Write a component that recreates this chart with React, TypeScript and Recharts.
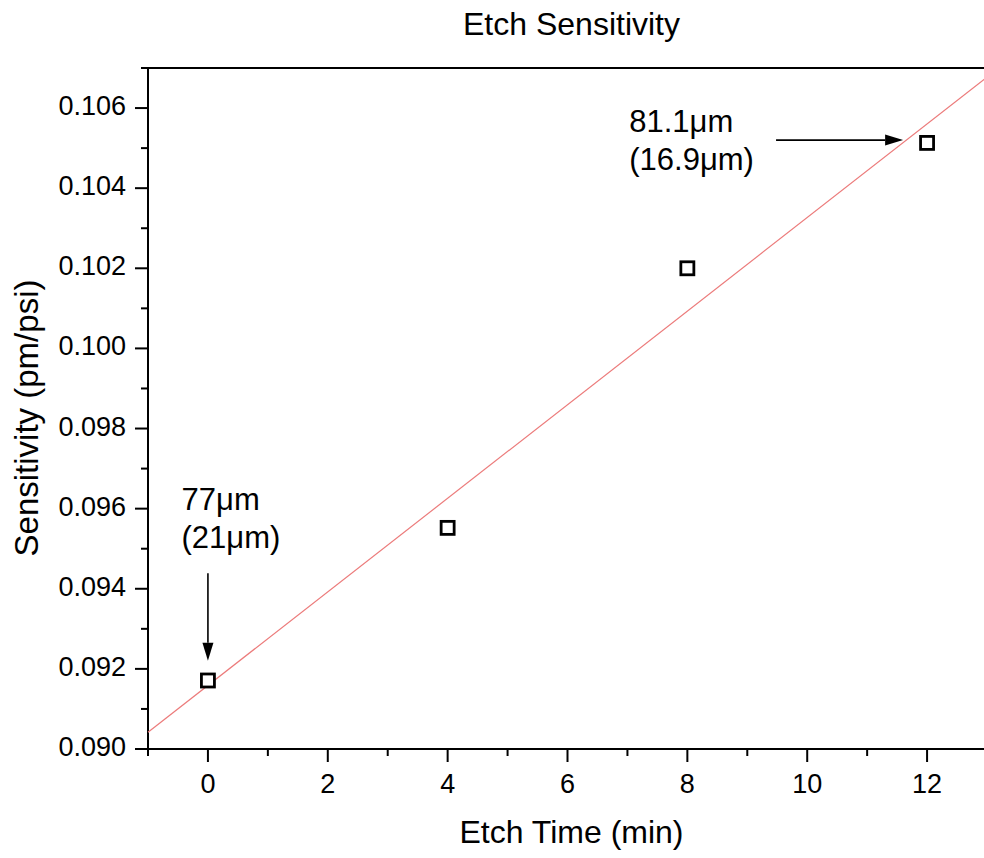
import React from "react";
import { ComposedChart, Scatter, XAxis, YAxis, ReferenceLine, ReferenceDot } from "recharts";

const FONT = "'Liberation Sans', Arial, sans-serif";

// measured points
const etchTime = [0, 4, 8, 12];
const sensitivity = [0.09171, 0.09552, 0.102, 0.10513];

// linear fit, read at both ends of the axis
const fitTime = [-1, 13];
const fitSensitivity = [0.09042, 0.10677];

const xTicks = [-1, 0, 1, 2, 3, 4, 5, 6, 7, 8, 9, 10, 11, 12, 13];
const yTicks = [
  0.09, 0.091, 0.092, 0.093, 0.094, 0.095, 0.096, 0.097, 0.098,
  0.099, 0.1, 0.101, 0.102, 0.103, 0.104, 0.105, 0.106, 0.107,
];

const notes = [
  { x: -0.44, y: 0.09597, lines: ["77μm", "(21μm)"] },
  { x: 7.03, y: 0.1054, lines: ["81.1μm", "(16.9μm)"] },
];

const arrows = [
  { x1: 0, y1: 0.09439, x2: 0, y2: 0.0922 },
  { x1: 9.48, y1: 0.1052, x2: 11.6, y2: 0.1052 },
];

const points = etchTime.map((t, i) => ({ t, s: sensitivity[i] }));
const fitPoints = fitTime.map((t, i) => ({ t, s: fitSensitivity[i] }));

const isMajorX = (v: number) => v % 2 === 0;
const isMajorY = (v: number) => Math.round(v * 1000) % 2 === 0;

const BottomTick = ({ x, y, payload }: any) => {
  const major = isMajorX(payload.value);
  return (
    <g>
      <line x1={x} x2={x} y1={y} y2={y + (major ? 13 : 7)} stroke="#000" strokeWidth={2} />
      {major && (
        <text x={x} y={y + 44} textAnchor="middle" fontSize={27} fontFamily={FONT} fill="#000">
          {payload.value}
        </text>
      )}
    </g>
  );
};

const TopTick = ({ x, y, payload }: any) => {
  const major = isMajorX(payload.value);
  return <line x1={x} x2={x} y1={y} y2={y + (major ? 13 : 7)} stroke="#000" strokeWidth={2} />;
};

const LeftTick = ({ x, y, payload }: any) => {
  const major = isMajorY(payload.value);
  return (
    <g>
      <line x1={x - (major ? 13 : 7)} x2={x} y1={y} y2={y} stroke="#000" strokeWidth={2} />
      {major && (
        <text x={x - 22} y={y + 7} textAnchor="end" fontSize={27} fontFamily={FONT} fill="#000">
          {Number(payload.value).toFixed(3)}
        </text>
      )}
    </g>
  );
};

const RightTick = ({ x, y, payload }: any) => {
  const major = isMajorY(payload.value);
  return <line x1={x - (major ? 13 : 7)} x2={x} y1={y} y2={y} stroke="#000" strokeWidth={2} />;
};

const Square = ({ cx, cy }: any) => (
  <rect x={cx - 6.5} y={cy - 6.5} width={13} height={13} fill="#fff" stroke="#000" strokeWidth={2.8} />
);

const Arrow = ({ x1, y1, x2, y2 }: any) => {
  const ang = Math.atan2(y2 - y1, x2 - x1);
  const len = 18;
  const hw = 5.5;
  const bx = x2 - len * Math.cos(ang);
  const by = y2 - len * Math.sin(ang);
  const px = -Math.sin(ang) * hw;
  const py = Math.cos(ang) * hw;
  return (
    <g>
      <line x1={x1} y1={y1} x2={bx} y2={by} stroke="#000" strokeWidth={1.6} />
      <polygon points={`${x2},${y2} ${bx + px},${by + py} ${bx - px},${by - py}`} fill="#000" />
    </g>
  );
};

const noteShape = (lines: string[]) => ({ cx, cy }: any) => (
  <text x={cx} y={cy} fontSize={31} fontFamily={FONT} fill="#000">
    {lines.map((l, i) => (
      <tspan key={i} x={cx} dy={i === 0 ? 0 : 38}>{l}</tspan>
    ))}
  </text>
);

const XTitle = ({ viewBox }: any) => (
  <text x={viewBox.x + viewBox.width / 2 + 4} y={843} textAnchor="middle" fontSize={32} fontFamily={FONT} fill="#000">
    Etch Time (min)
  </text>
);

const YTitle = () => (
  <text transform="translate(38,418) rotate(-90)" textAnchor="middle" fontSize={33} fontFamily={FONT} fill="#000">
    Sensitivity (pm/psi)
  </text>
);

const Title = ({ viewBox }: any) => (
  <text x={viewBox.x + viewBox.width / 2 + 4} y={35} textAnchor="middle" fontSize={32} fontFamily={FONT} fill="#000">
    Etch Sensitivity
  </text>
);

export default function App() {
  return (
    <div style={{ position: "absolute", left: 0, top: 0, width: 984, height: 858, overflow: "hidden", background: "#fff" }}>
      <ComposedChart width={990} height={858} margin={{ top: 0, right: 3, bottom: 0, left: 0 }}>
        <XAxis
          dataKey="t" type="number" domain={[-1, 13]} ticks={xTicks} interval={0}
          height={109} tickSize={0} tickMargin={0} tickLine={false}
          axisLine={{ stroke: "#000", strokeWidth: 2 }} tick={<BottomTick />}
          label={{ content: XTitle }}
        />
        <XAxis
          xAxisId="top" orientation="top" type="number" domain={[-1, 13]} ticks={xTicks} interval={0}
          height={68} tickSize={0} tickMargin={0} tickLine={false}
          axisLine={{ stroke: "#000", strokeWidth: 2 }} tick={<TopTick />}
          label={{ content: Title }}
        />
        <YAxis
          dataKey="s" type="number" domain={[0.09, 0.107]} ticks={yTicks} interval={0}
          width={148} tickSize={0} tickMargin={0} tickLine={false}
          axisLine={{ stroke: "#000", strokeWidth: 2 }} tick={<LeftTick />}
          label={{ content: YTitle }}
        />
        <YAxis
          yAxisId="right" orientation="right" type="number" domain={[0.09, 0.107]} ticks={yTicks} interval={0}
          width={0} tickSize={0} tickMargin={0} tickLine={false}
          axisLine={{ stroke: "#000", strokeWidth: 2 }} tick={<RightTick />}
        />
        <Scatter
          data={fitPoints} dataKey="s" line={{ stroke: "#ec7b7b", strokeWidth: 1.2 }}
          shape={() => <g />} isAnimationActive={false}
        />
        <Scatter data={points} dataKey="s" shape={<Square />} isAnimationActive={false} />
        {arrows.map((a, i) => (
          <ReferenceLine
            key={i}
            segment={[{ x: a.x1, y: a.y1 }, { x: a.x2, y: a.y2 }]}
            shape={Arrow}
            ifOverflow="visible"
          />
        ))}
        {notes.map((n, i) => (
          <ReferenceDot key={i} x={n.x} y={n.y} r={0} shape={noteShape(n.lines)} ifOverflow="visible" />
        ))}
      </ComposedChart>
    </div>
  );
}
